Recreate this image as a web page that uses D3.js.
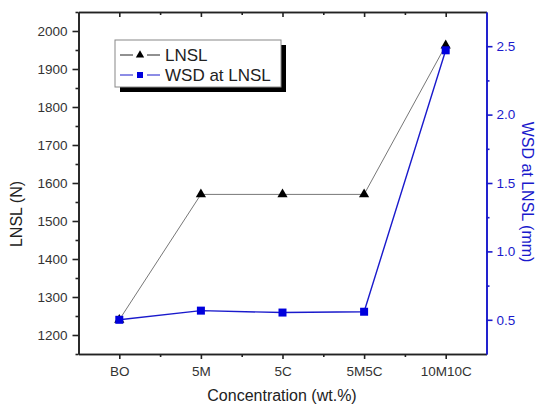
<!DOCTYPE html>
<html><head><meta charset="utf-8">
<script src="https://cdn.jsdelivr.net/npm/d3@7"></script>
<style>body{margin:0;background:#fff}svg{display:block}text{font-family:Arial,"Liberation Sans",sans-serif}</style>
</head><body>
<svg id="c" width="538" height="405"></svg>
<script>
const categories = ["BO","5M","5C","5M5C","10M10C"];
const lnsl = [1240, 1570, 1570, 1570, 1962];
const wsd = [0.50, 0.567, 0.553, 0.559, 2.47];
const leftTicks = [1200,1300,1400,1500,1600,1700,1800,1900,2000];
const rightTicks = [0.5,1.0,1.5,2.0,2.5];
const seriesNames = ["LNSL","WSD at LNSL"];

const svg = d3.select("#c");
const L=78.5, R=486.5, T=12, B=354;
const x = d3.scaleLinear().domain([-0.5,4.5]).range([L,R]);
const yL = d3.scaleLinear().domain([1150,2050]).range([B,T]);
const yR = d3.scaleLinear().domain([0.25,2.75]).range([B,T]);
const blue = "#1a1acc";

// bottom axis
const bx = svg.append("g").attr("transform",`translate(0,${B})`)
  .call(d3.axisBottom(x).tickValues([0,1,2,3,4]).tickFormat(i=>categories[i]).tickSize(5).tickSizeOuter(0).tickPadding(7));
bx.append("g").call(d3.axisBottom(x).tickValues([0.5,1.5,2.5,3.5]).tickFormat("").tickSize(3).tickSizeOuter(0));
// top axis mirror
const tx = svg.append("g").attr("transform",`translate(0,${T})`)
  .call(d3.axisBottom(x).tickValues([0,1,2,3,4]).tickFormat("").tickSize(5).tickSizeOuter(0));
tx.append("g").call(d3.axisBottom(x).tickValues([0.5,1.5,2.5,3.5]).tickFormat("").tickSize(3).tickSizeOuter(0));
// left axis
const ly = svg.append("g").attr("transform",`translate(${L},0)`)
  .call(d3.axisLeft(yL).tickValues(leftTicks).tickFormat(d3.format("d")).tickSize(6).tickSizeOuter(0).tickPadding(5));
ly.append("g").call(d3.axisLeft(yL).tickValues(leftTicks.map(v=>v-50).concat([2050])).tickFormat("").tickSize(3).tickSizeOuter(0));
// right axis
const ry = svg.append("g").attr("transform",`translate(${R},0)`)
  .call(d3.axisRight(yR).tickValues(rightTicks).tickFormat(d3.format(".1f")).tickSize(6).tickSizeOuter(0).tickPadding(4));
ry.append("g").call(d3.axisRight(yR).tickValues([0.75,1.25,1.75,2.25]).tickFormat("").tickSize(3).tickSizeOuter(0));

[bx,tx,ly].forEach(g=>{g.selectAll("path,line").attr("stroke","#222").attr("stroke-width",1.6);
  g.selectAll("text").attr("fill","#333").attr("font-size",13.5);});
ry.selectAll("path,line").attr("stroke",blue).attr("stroke-width",1.6);
ry.selectAll("text").attr("fill",blue).attr("font-size",13.5);

// lines
const lineL = d3.line().x((d,i)=>x(i)).y(d=>yL(d));
const lineR = d3.line().x((d,i)=>x(i)).y(d=>yR(d));
svg.append("path").datum(lnsl).attr("d",lineL).attr("fill","none").attr("stroke","#777").attr("stroke-width",1);
svg.append("path").datum(wsd).attr("d",lineR).attr("fill","none").attr("stroke",blue).attr("stroke-width",1.4);
const tri = d3.symbol().type(d3.symbolTriangle).size(45);
const triS = d3.symbol().type(d3.symbolTriangle).size(30);
svg.append("g").selectAll("path").data(lnsl).join("path")
  .attr("transform",(d,i)=>`translate(${x(i)},${yL(d)})`).attr("d",tri).attr("fill","#000");
svg.append("g").selectAll("rect").data(wsd).join("rect")
  .attr("x",(d,i)=>x(i)-4).attr("y",d=>yR(d)-4).attr("width",8).attr("height",8).attr("fill","#0000dd");

// legend
const lg = svg.append("g");
lg.append("rect").attr("x",120).attr("y",45).attr("width",166).attr("height",47).attr("fill","#000");
lg.append("rect").attr("x",115).attr("y",40).attr("width",166).attr("height",47).attr("fill","#fff").attr("stroke","#888").attr("stroke-width",1);
[[0,"#222"],[1,blue]].forEach(([k,c])=>{
  const yy = 55 + k*20;
  lg.append("line").attr("x1",120).attr("x2",133).attr("y1",yy).attr("y2",yy).attr("stroke",c).attr("stroke-width",1);
  lg.append("line").attr("x1",147).attr("x2",160).attr("y1",yy).attr("y2",yy).attr("stroke",c).attr("stroke-width",1);
  if(k===0) lg.append("path").attr("transform",`translate(140,${yy})`).attr("d",triS).attr("fill","#000");
  else lg.append("rect").attr("x",137).attr("y",yy-3).attr("width",6).attr("height",6).attr("fill","#0000dd");
  lg.append("text").attr("x",165).attr("y",yy+6).attr("font-size",17).attr("fill","#222").text(seriesNames[k]);
});

// titles
svg.append("text").attr("x",282).attr("y",401).attr("text-anchor","middle").attr("font-size",16).attr("fill","#222").text("Concentration (wt.%)");
svg.append("text").attr("transform","translate(22,214) rotate(-90)").attr("text-anchor","middle").attr("font-size",16).attr("fill","#222").text("LNSL (N)");
svg.append("text").attr("transform","translate(522,192) rotate(90)").attr("text-anchor","middle").attr("font-size",16).attr("fill",blue).text("WSD at LNSL (mm)");
</script>
</body></html>
